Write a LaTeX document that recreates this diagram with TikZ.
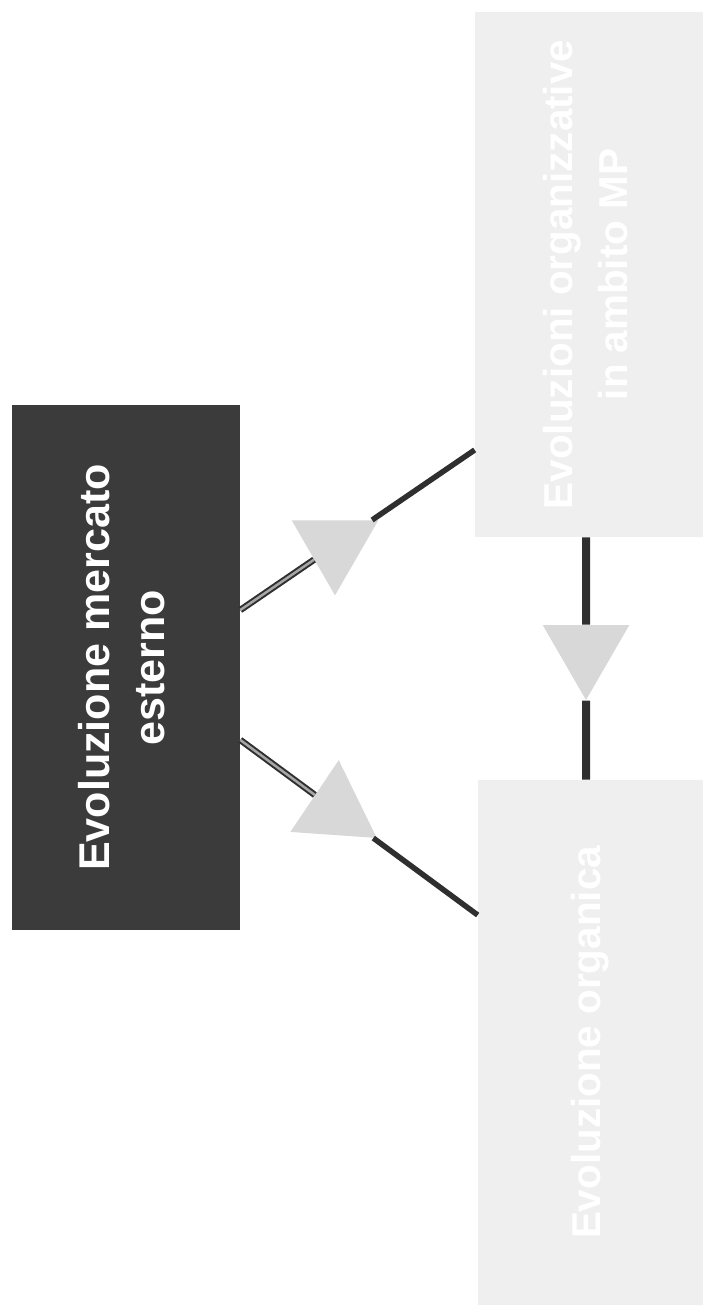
\documentclass[tikz,border=0pt]{standalone}
\usepackage{fontspec}
\setmainfont{Liberation Sans}
\usepackage{graphicx}
\usetikzlibrary{shapes.geometric}
\definecolor{boxdark}{HTML}{3B3B3B}
\definecolor{boxlight}{HTML}{EFEFEF}
\definecolor{trigray}{HTML}{D8D8D8}
\definecolor{linedark}{HTML}{2F2F2F}
\begin{document}
\begin{tikzpicture}[x=0.02cm, y=0.02cm,
		box/.style={rectangle, inner sep=0pt, minimum width=4.56cm, minimum height=10.5cm,
			font=\bfseries\fontsize{23}{31}\selectfont},
		tri/.style={regular polygon, regular polygon sides=3, fill=trigray, inner sep=0pt,
			minimum size=2cm},
		link/.style={linedark, line width=0.11cm},
		dlink/.style={linedark, line width=0.04cm, double=gray!70, double distance=0.05cm}]
	\useasboundingbox[fill=white] (0,0) rectangle (706,-1311);
	\node [box, fill=boxdark, text=white, font=\bfseries\fontsize{24.5}{31}\selectfont]
		(mercato) at (126,-667.5)
		{\rotatebox{90}{\begin{tabular}{@{}c@{}}Evoluzione mercato\\esterno\end{tabular}}};
	\node [box, fill=boxlight, text=white] (organizz) at (589,-274.5)
		{\rotatebox{90}{\begin{tabular}{@{}c@{}}Evoluzioni organizzative\\in ambito MP\end{tabular}}};
	\node [box, fill=boxlight, text=white, minimum width=4.5cm] (organica) at (590.5,-1042.5)
		{\rotatebox{90}{Evoluzione organica}};
	% attach points on the box sides
	\coordinate (m1) at ([yshift=1.15cm]mercato.east);
	\coordinate (m2) at ([yshift=-1.45cm]mercato.east);
	\coordinate (o1) at ([yshift=-3.51cm]organizz.west);
	\coordinate (o2) at ([yshift=2.55cm]organica.west);
	\coordinate (v1) at ([xshift=-0.06cm]organizz.south);
	\coordinate (v2) at ([xshift=-0.09cm]organica.north);
	\path (m1) -- node[tri, pos=0.404, shape border rotate=180] (t1) {} (o1);
	\path (m2) -- node[tri, pos=0.4, shape border rotate=-4] (t2) {} (o2);
	\path (v1) -- node[tri, pos=0.465, shape border rotate=180] (t3) {} (v2);
	\draw [dlink] (m1) -- (t1);
	\draw [link] (t1) -- (o1);
	\draw [dlink] (m2) -- (t2);
	\draw [link] (t2) -- (o2);
	\draw [link, line width=0.16cm] (v1) -- (t3);
	\draw [link, line width=0.16cm] (t3) -- (v2);
\end{tikzpicture}
\end{document}
